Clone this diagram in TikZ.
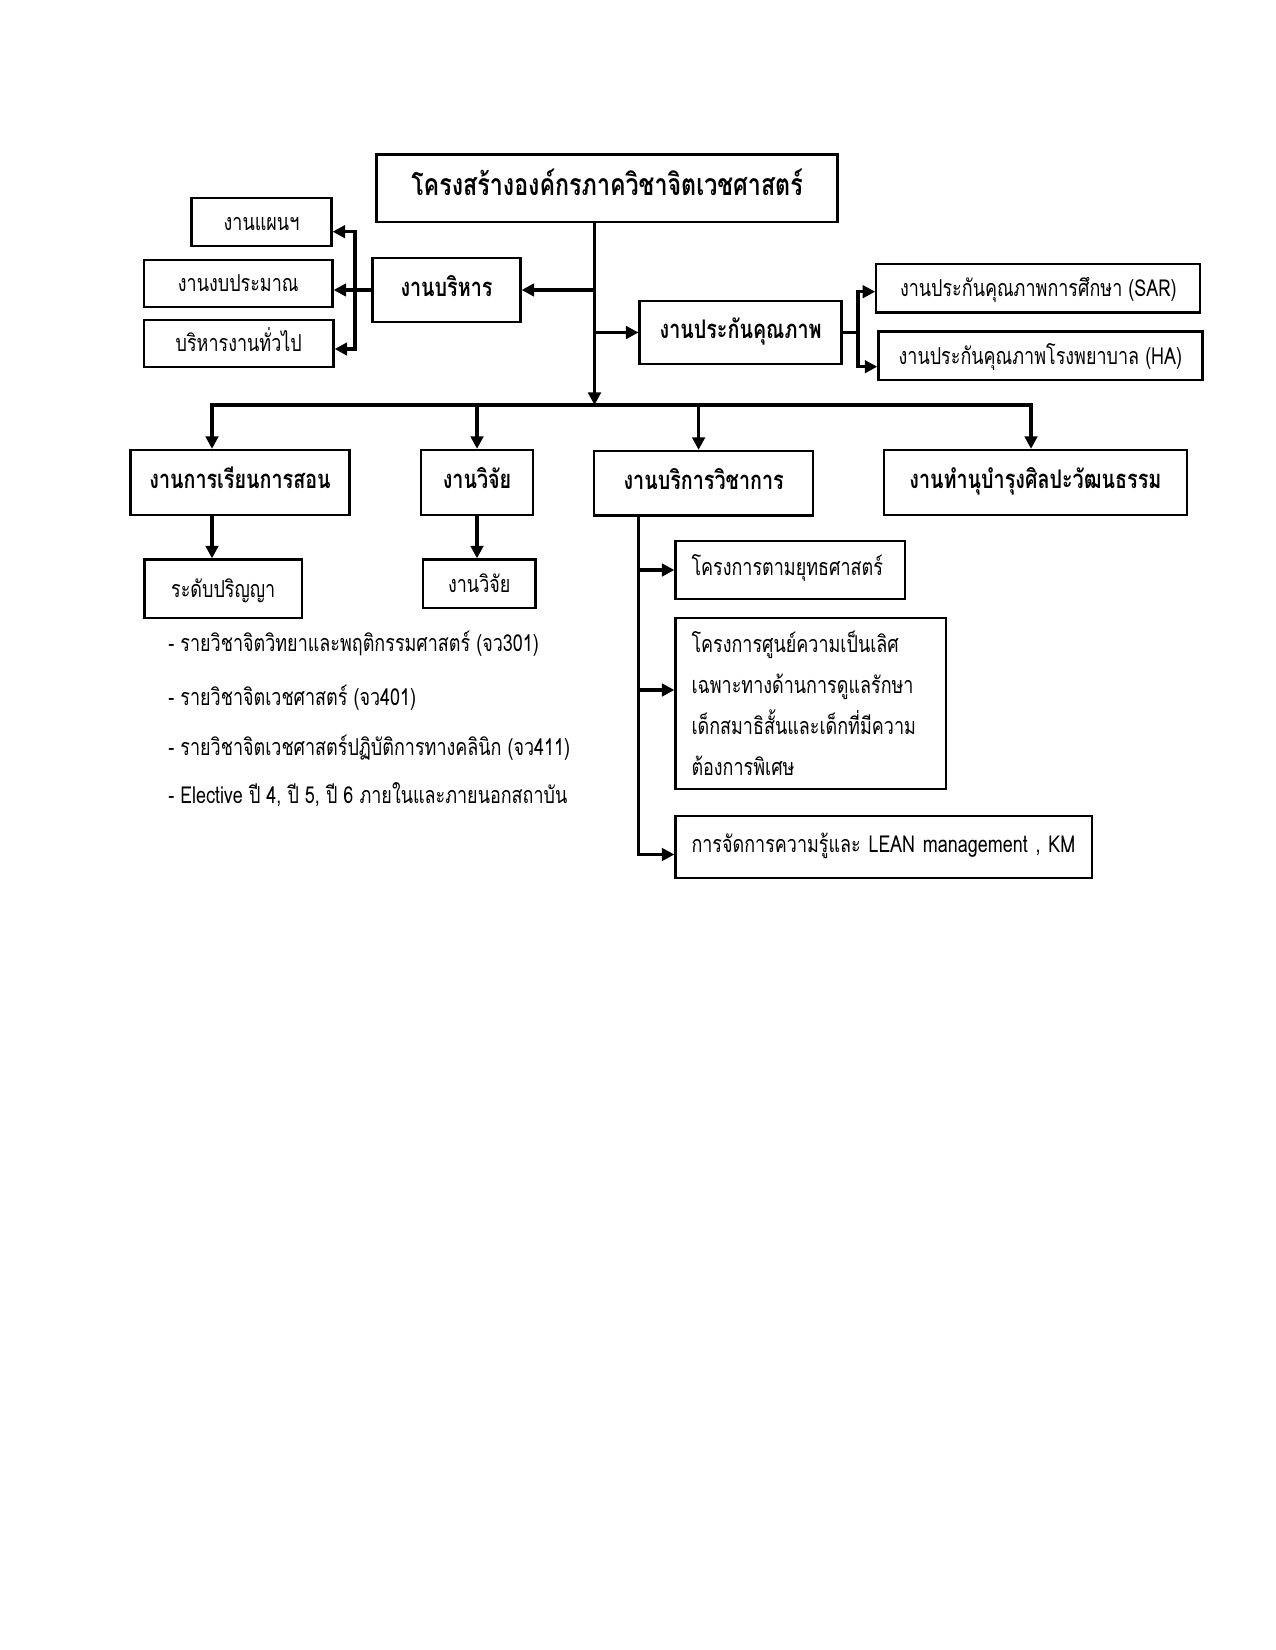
\documentclass[tikz,border=0pt]{standalone}
\usepackage{fontspec}
\setmainfont[Script=Thai,FakeStretch=0.77]{Loma}
\usetikzlibrary{arrows.meta}
\newcommand\bxn[7]{\node[bx,#1,minimum width={(#5-#3)*0.48pt},minimum height={(#6-#4)*0.48pt}] (#2) at ({(#3+#5)/2},{(#4+#6)/2}) {#7};}
\begin{document}
\begin{tikzpicture}[x=0.48pt,y=-0.48pt,
  bx/.style={draw, line width=1.1pt, inner sep=0pt, align=center},
  oneL/.style={text height=0.62em, text depth=0.12em},
  ln/.style={line width=1.7pt},
  arr/.style={line width=1.7pt, -{Triangle[length=6pt,width=6pt]}},
  tfont/.style={text height=0.8em, text depth=0.1em, font=\fontsize{14.5}{17}\selectfont\bfseries},
  hfont/.style={text height=0.68em, text depth=0.1em, font=\fontsize{12.3}{14}\selectfont\bfseries},
  rfont/.style={font=\fontsize{11.2}{13}\selectfont},
  rone/.style={rfont, text height=0.9em, text depth=0.1em},
  lbox/.style={rfont, align=left, inner xsep={16*0.48pt}},
]
\useasboundingbox (0,0) rectangle (1275,1650);
\bxn{tfont}{title}{376.6}{154.6}{837.4}{222}{โครงสร้างองค์กรภาควิชาจิตเวชศาสตร์}
\bxn{rone}{plan}{191.5}{198}{331.5}{246}{งานแผนฯ}
\bxn{rone}{budget}{144}{260}{332.5}{307}{งานงบประมาณ}
\bxn{rone}{general}{144}{320}{333.5}{367}{บริหารงานทั่วไป}
\bxn{hfont}{admin}{372.5}{258}{520.5}{322}{งานบริหาร}
\bxn{hfont}{qa}{639.6}{301}{841.6}{364}{งานประกันคุณภาพ}
\bxn{rone}{sar}{876.3}{264}{1200.3}{312.5}{งานประกันคุณภาพการศึกษา (SAR)}
\bxn{rone}{ha}{878.4}{331.4}{1202.4}{380}{งานประกันคุณภาพโรงพยาบาล (HA)}
\bxn{hfont}{teach}{130.5}{450}{349.5}{515}{งานการเรียนการสอน}
\bxn{hfont}{research}{421}{450}{533}{515}{งานวิจัย}
\bxn{hfont}{service}{594}{451}{813.3}{515.5}{งานบริการวิชาการ}
\bxn{hfont}{culture}{883.7}{450}{1187}{515}{งานทำนุบำรุงศิลปะวัฒนธรรม}
\bxn{rone}{degree}{144.5}{559.5}{302}{618}{ระดับปริญญา}
\bxn{rone}{research2}{423}{559.5}{535.5}{608}{งานวิจัย}
\bxn{lbox,oneL,text width={(905-675.5-32)*0.48pt}}{strategy}{675.5}{540.7}{905}{599}{โครงการตามยุทธศาสตร์}
\bxn{lbox,text width={(946-675.5-32)*0.48pt},font=\fontsize{11.2}{19.7}\selectfont}{center}{675.5}{617.7}{946}{789.3}{โครงการศูนย์ความเป็นเลิศ\\เฉพาะทางด้านการดูแลรักษา\\เด็กสมาธิสั้นและเด็กที่มีความ\\ต้องการพิเศษ}
\bxn{lbox,oneL,text width={(1092-675.5-32)*0.48pt}}{km}{675.5}{816}{1092}{878}{การจัดการความรู้และ LEAN management , KM}

\node[rone,anchor=west,inner sep=0pt] (l1) at (168,643) {- รายวิชาจิตวิทยาและพฤติกรรมศาสตร์ (จว301)};
\node[rone,anchor=west,inner sep=0pt] (l2) at (168,697.5) {- รายวิชาจิตเวชศาสตร์ (จว401)};
\node[rone,anchor=west,inner sep=0pt] (l3) at (168,747) {- รายวิชาจิตเวชศาสตร์ปฏิบัติการทางคลินิก (จว411)};
\node[rone,anchor=west,inner sep=0pt] (l4) at (168,795) {- Elective ปี 4, ปี 5, ปี 6 ภายในและภายนอกสถาบัน};

% main trunk
\coordinate (busT) at (594.5,405);
\coordinate (bL) at (212,405);
\coordinate (bR) at (1031,405);
\coordinate (bS) at (698.6,405);
\draw[arr] (busT |- title.south) -- (busT);
\draw[arr] (busT |- admin.east) -- (admin.east);
\draw[arr] (busT |- qa.west) -- (qa.west);
\draw[ln,line cap=rect] (bL) -- (bR);
\draw[arr] (bL) -- (bL |- teach.north);
\draw[arr] (research.north |- busT) -- (research.north);
\draw[arr] (bS) -- (bS |- service.north);
\draw[arr] (bR) -- (bR |- culture.north);

% admin branch
\coordinate (aT) at (355,231.7);
\coordinate (aB) at (355,349);
\draw[arr] (admin.west) -- (budget.east |- admin.west);
\draw[arr] (aB) -- (aT) -- (aT -| plan.east);
\draw[arr] (aT) -- (aB) -- (aB -| general.east);

% qa branch
\coordinate (qT) at (858,291.7);
\coordinate (qB) at (858,366.7);
\draw[ln] (qa.east) -- (qa.east -| qT);
\draw[arr] (qB) -- (qT) -- (qT -| sar.west);
\draw[arr] (qT) -- (qB) -- (qB -| ha.west);

% lower
\draw[arr] (bL |- teach.south) -- (bL |- degree.north);
\draw[arr] (research.south) -- (research.south |- research2.north);
\coordinate (s1) at (638.6,570);
\coordinate (s2) at (638.6,690);
\coordinate (s3) at (638.6,854.5);
\draw[arr] (s3 |- service.south) -- (s3) -- (s3 -| km.west);
\draw[arr] (s1) -- (s1 -| strategy.west);
\draw[arr] (s2) -- (s2 -| center.west);
\end{tikzpicture}
\end{document}
